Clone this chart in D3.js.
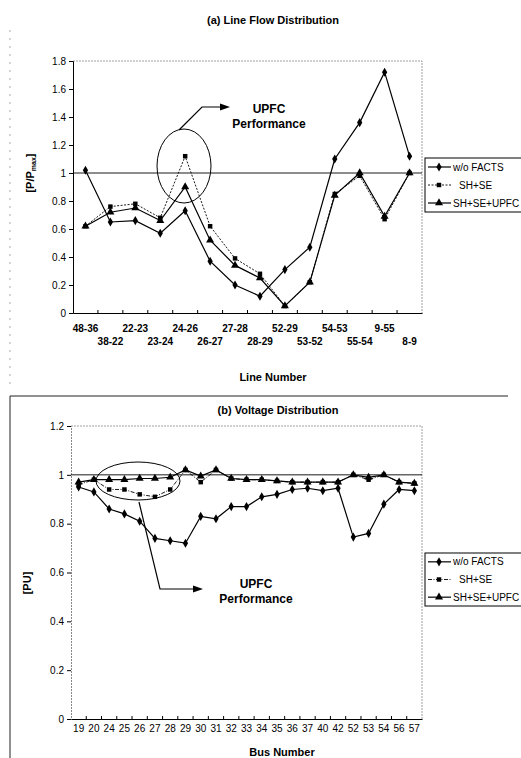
<!DOCTYPE html>
<html>
<head>
<meta charset="utf-8">
<script src="https://cdn.jsdelivr.net/npm/d3@7"></script>
<style>
body { margin: 0; background: #fff; }
svg { font-family: "Liberation Sans", Arial, sans-serif; }
.title { font-weight: bold; font-size: 11px; text-anchor: middle; }
.tick text { font-size: 10px; }
.note { font-weight: bold; font-size: 12px; text-anchor: middle; }
.leg { font-size: 10px; }
</style>
</head>
<body>
<svg id="chart" width="521" height="758"></svg>
<script>
// ---- data ----
var lines = ["48-36","38-22","22-23","23-24","24-26","26-27","27-28","28-29","52-29","53-52","54-53","55-54","9-55","8-9"];
var flowNoFacts = [1.02,0.65,0.66,0.57,0.73,0.37,0.20,0.12,0.31,0.47,1.10,1.36,1.72,1.12];
var flowShSe    = [0.62,0.76,0.78,0.68,1.12,0.62,0.39,0.28,0.05,0.22,0.85,0.98,0.67,1.00];
var flowUpfc    = [0.62,0.72,0.75,0.66,0.90,0.52,0.34,0.25,0.05,0.22,0.84,1.00,0.69,1.00];
var flowTicks = [0,0.2,0.4,0.6,0.8,1,1.2,1.4,1.6,1.8];

var buses = ["19","20","24","25","26","27","28","29","30","31","32","33","34","35","36","37","40","42","52","53","54","56","57"];
var voltNoFacts = [0.95,0.93,0.86,0.84,0.81,0.74,0.73,0.72,0.83,0.82,0.87,0.87,0.91,0.92,0.94,0.945,0.935,0.945,0.745,0.76,0.88,0.94,0.935];
var voltShSe    = [0.96,0.98,0.94,0.94,0.92,0.91,0.94,1.02,0.97,1.02,0.985,0.98,0.98,0.975,0.97,0.97,0.97,0.97,1.0,0.98,1.0,0.97,0.965];
var voltUpfc    = [0.97,0.98,0.98,0.98,0.985,0.985,0.99,1.02,0.995,1.02,0.985,0.98,0.98,0.975,0.97,0.97,0.97,0.97,1.0,0.99,1.0,0.97,0.965];
var voltTicks = [0,0.2,0.4,0.6,0.8,1,1.2];

var seriesNames = ["w/o FACTS","SH+SE","SH+SE+UPFC"];

var svg = d3.select("#chart");

// page frame bits (scan edges)
svg.append("line").attr("x1",10).attr("x2",10).attr("y1",30).attr("y2",390)
  .attr("stroke","#999").attr("stroke-width",0.8).attr("stroke-dasharray","2,6");
svg.append("path").attr("d","M10,758 L10,396 L508,396")
  .attr("fill","none").attr("stroke","#222").attr("stroke-width",1);

var symbols = [d3.symbolDiamond, d3.symbolSquare, d3.symbolTriangle];
var symSize = [24, 20, 28];

function drawPanel(o){
  var x = d3.scaleBand().domain(o.cats).range([o.left, o.right]);
  var y = d3.scaleLinear().domain([0, o.max]).range([o.bottom, o.top]);
  var g = svg.append("g");

  // frame: dotted top/right
  g.append("path").attr("d","M"+o.left+","+o.top+" L"+o.right+","+o.top+" L"+o.right+","+o.bottom)
    .attr("fill","none").attr("stroke","#888").attr("stroke-width",0.8).attr("stroke-dasharray","2,1");

  // y axis
  var ya = g.append("g").attr("transform","translate("+o.left+",0)")
    .call(d3.axisLeft(y).tickValues(o.ticks).tickSize(4).tickPadding(3)
      .tickFormat(function(d){ return d3.format("")(+d.toFixed(1)); }));
  ya.select(".domain").attr("stroke", o.leftSolid ? "#000" : "#888")
    .attr("stroke-dasharray", o.leftSolid ? null : "2,1");

  // x axis
  var xa = g.append("g").attr("transform","translate(0,"+o.bottom+")")
    .call(d3.axisBottom(x).tickSize(0).tickPadding(o.xPad));
  xa.select(".domain").attr("stroke","#000").attr("stroke-width",1.2);
  xa.selectAll(".tick text").attr("font-size", o.xFont)
    .attr("font-weight", o.xBold ? "bold" : null)
    .attr("dy", function(d,i){ return o.stagger && i % 2 == 1 ? "2em" : "0.71em"; });
  // little tick marks between categories, pointing up
  g.selectAll(".sep").data(o.cats.slice(1)).enter().append("line")
    .attr("x1", function(d){ return x(d); }).attr("x2", function(d){ return x(d); })
    .attr("y1", o.bottom).attr("y2", o.bottom-3).attr("stroke","#000");

  // reference line at 1.0
  g.append("line").attr("x1",o.left).attr("x2",o.right)
    .attr("y1",y(1)).attr("y2",y(1)).attr("stroke","#000").attr("stroke-width",0.9);

  var line = d3.line()
    .x(function(d,i){ return x(o.cats[i]) + x.bandwidth()/2; })
    .y(function(d){ return y(d); });

  var dashes = [null, o.dash2, null];
  o.series.forEach(function(s, k){
    g.append("path").attr("d", line(s)).attr("fill","none")
      .attr("stroke","#000").attr("stroke-width", k==1 ? 0.9 : 1.2)
      .attr("stroke-dasharray", dashes[k]);
    g.selectAll(".m"+k).data(s).enter().append("path")
      .attr("d", d3.symbol().type(symbols[k]).size(symSize[k]))
      .attr("transform", function(d,i){ return "translate("+(x(o.cats[i])+x.bandwidth()/2)+","+y(d)+")"; })
      .attr("fill","#000");
  });

  // titles
  g.append("text").attr("class","title").attr("x",o.titleX).attr("y",o.titleY).text(o.title);
  g.append("text").attr("class","title").attr("x",o.xlabX).attr("y",o.xlabY).text(o.xlab);
  var yl = g.append("text").attr("class","title")
    .attr("transform","translate("+o.ylabX+","+o.ylabY+") rotate(-90)");
  o.ylab(yl);

  // legend
  var lg = g.append("g");
  lg.append("rect").attr("x",o.legX).attr("y",o.legY).attr("width",521-o.legX+2).attr("height",o.legH)
    .attr("fill","#fff").attr("stroke","#000").attr("stroke-width",1);
  seriesNames.forEach(function(n,k){
    var ly = o.legY + o.legH*(k*2+1)/6;
    lg.append("line").attr("x1",o.legX+3).attr("x2",o.legX+26).attr("y1",ly).attr("y2",ly)
      .attr("stroke","#000").attr("stroke-width", k==1 ? 0.9 : 1.2).attr("stroke-dasharray", dashes[k]);
    lg.append("path").attr("d", d3.symbol().type(symbols[k]).size(symSize[k]))
      .attr("transform","translate("+(o.legX+14)+","+ly+")");
    lg.append("text").attr("class","leg").attr("x", o.legX + (k==1 ? 34 : 28)).attr("y", ly+3.5)
      .attr("font-size", k==2 ? 8 : 11).text(n);
  });

  // annotation
  g.append("ellipse").attr("cx",o.ell[0]).attr("cy",o.ell[1]).attr("rx",o.ell[2]).attr("ry",o.ell[3])
    .attr("fill","none").attr("stroke","#000").attr("stroke-width",1);
  g.append("path").attr("d", o.arrow).attr("fill","none").attr("stroke","#000").attr("stroke-width",1.2);
  var tip = o.tip;
  g.append("path").attr("d","M"+tip[0]+","+tip[1]+" l-10,-3.5 l0,7 z").attr("fill","#000");
  g.append("text").attr("class","note").attr("x",o.noteX).attr("y",o.noteY).text("UPFC");
  g.append("text").attr("class","note").attr("x",o.noteX).attr("y",o.noteY+15).text("Performance");
}

drawPanel({
  cats: lines, max: 1.8, ticks: flowTicks,
  left: 73, right: 422, top: 61, bottom: 313,
  series: [flowNoFacts, flowShSe, flowUpfc], dash2: "2,1.5",
  leftSolid: true, xPad: 12, xFont: 9.5, xBold: true, stagger: true,
  title: "(a) Line Flow Distribution", titleX: 273, titleY: 24,
  xlab: "Line Number", xlabX: 273, xlabY: 381,
  ylabX: 34, ylabY: 173,
  ylab: function(t){ t.text("[P/P"); t.append("tspan").attr("font-size",7).attr("dy",2).text("max");
                     t.append("tspan").attr("dy",-2).text("]"); },
  legX: 425, legY: 158, legH: 54,
  ell: [184, 166, 27, 37],
  arrow: "M179,130 L202,107 L226,107", tip: [230,107],
  noteX: 269, noteY: 113
});

drawPanel({
  cats: buses, max: 1.2, ticks: voltTicks,
  left: 71, right: 422, top: 426, bottom: 719,
  series: [voltNoFacts, voltShSe, voltUpfc], dash2: "4,1.5,1,1.5",
  leftSolid: false, xPad: 6, xFont: 9, xBold: false, stagger: false,
  title: "(b) Voltage Distribution", titleX: 278, titleY: 414,
  xlab: "Bus Number", xlabX: 282, xlabY: 756,
  ylabX: 31, ylabY: 583,
  ylab: function(t){ t.text("[PU]"); },
  legX: 425, legY: 553, legH: 53,
  ell: [138, 481, 42, 19],
  arrow: "M139,502 L160,589 L199,589", tip: [203,589],
  noteX: 256, noteY: 588
});
</script>
</body>
</html>
